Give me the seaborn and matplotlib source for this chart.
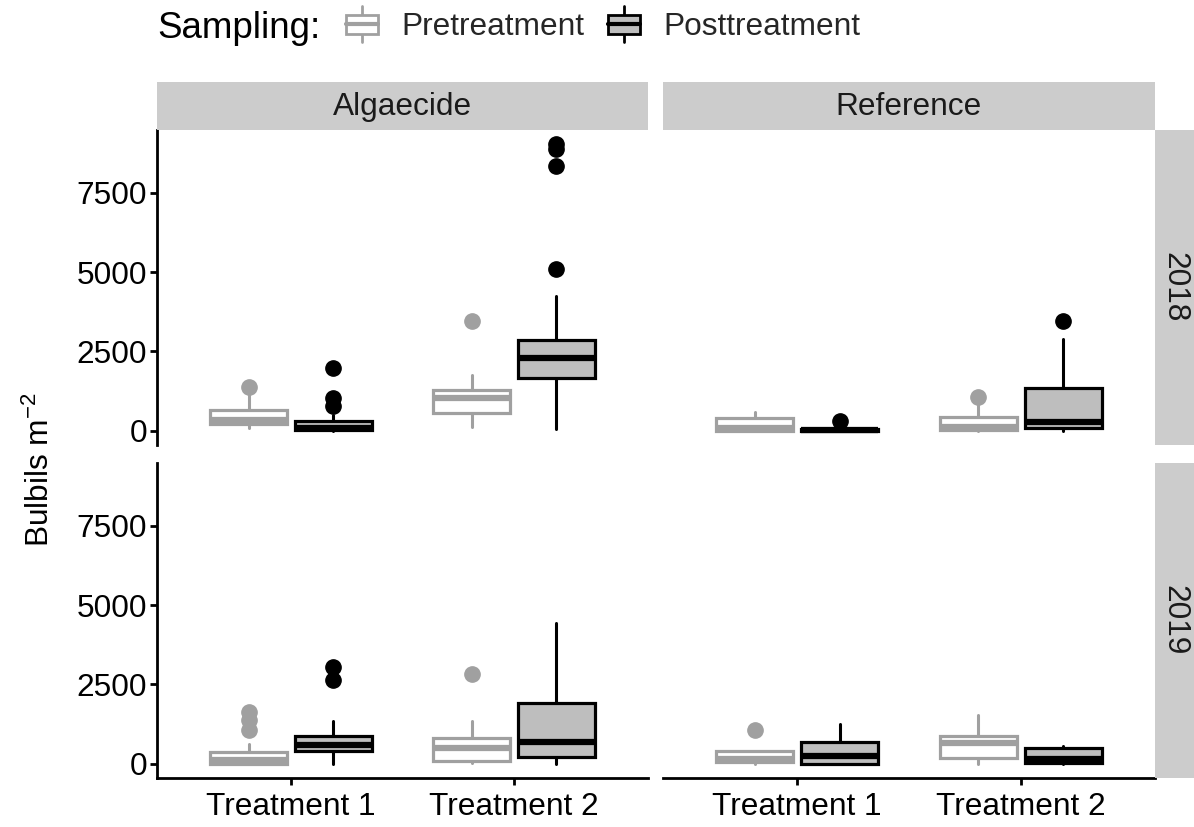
import matplotlib
matplotlib.use("Agg")
import matplotlib.pyplot as plt
import matplotlib.patches as mpatches
import matplotlib.lines as mlines
from matplotlib.legend_handler import HandlerBase
import seaborn as sns

sns.set_theme(style="white")
plt.rcParams['font.family'] = ['Liberation Sans', 'DejaVu Sans']
plt.rcParams['mathtext.default'] = 'regular'

# ---------------- data ----------------
years = ["2018", "2019"]
sites = ["Algaecide", "Reference"]
groups = ["Treatment 1", "Treatment 2"]
samplings = ["Pretreatment", "Posttreatment"]
yticks = [0, 2500, 5000, 7500]

# five-number summaries (whisker low, Q1, median, Q3, whisker high)
# order in each panel: T1-Pre, T1-Post, T2-Pre, T2-Post
alg2018_box = [(80, 220, 330, 650, 1150), (0, 20, 100, 310, 480),
               (130, 570, 1030, 1290, 1760), (40, 1660, 2290, 2870, 4260)]
alg2018_out = [[1380], [780, 1020, 1990], [3450], [5080, 8350, 8880, 9020]]

ref2018_box = [(0, 0, 100, 390, 600), (0, 0, 20, 60, 130),
               (0, 20, 130, 430, 850), (0, 80, 270, 1350, 2900)]
ref2018_out = [[], [290], [1050], [3450]]

alg2019_box = [(0, 0, 130, 360, 630), (0, 390, 580, 860, 1330),
               (20, 80, 500, 810, 1340), (0, 200, 670, 1910, 4430)]
alg2019_out = [[1070, 1390, 1630], [2650, 3050], [2840], []]

ref2019_box = [(0, 40, 150, 390, 400), (0, 0, 230, 670, 1260),
               (0, 180, 640, 860, 1550), (0, 30, 150, 500, 570)]
ref2019_out = [[1050], [], [], []]

panels = {("2018", "Algaecide"): (alg2018_box, alg2018_out),
          ("2018", "Reference"): (ref2018_box, ref2018_out),
          ("2019", "Algaecide"): (alg2019_box, alg2019_out),
          ("2019", "Reference"): (ref2019_box, ref2019_out)}

# ---------------- style ----------------
PRE_EDGE = "#A0A0A0"
PRE_FACE = "white"
POST_EDGE = "black"
POST_FACE = "#BEBEBE"
STRIP = "#CCCCCC"
FS = 22.8
W, H = 1194, 827

fig = plt.figure(figsize=(W / 100, H / 100), dpi=100)

def fx(px):
    return px / W

def fy(py):
    return 1 - py / H

col_x = [(157, 648), (663, 1155)]
row_y = [(130, 445), (463, 778)]

offsets = [-0.19, 0.19]
box_w = 0.345

for r, yr in enumerate(years):
    for c, site in enumerate(sites):
        x0, x1 = col_x[c]
        y0, y1 = row_y[r]
        ax = fig.add_axes([fx(x0), fy(y1), fx(x1 - x0), (y1 - y0) / H])
        boxes, outs = panels[(yr, site)]
        k = 0
        for g in range(len(groups)):
            for s in range(len(samplings)):
                lo, q1, med, q3, hi = boxes[k]
                st = dict(whislo=lo, q1=q1, med=med, q3=q3, whishi=hi,
                          fliers=outs[k], label="")
                ec = PRE_EDGE if s == 0 else POST_EDGE
                fc = PRE_FACE if s == 0 else POST_FACE
                ax.bxp([st], positions=[g + 1 + offsets[s]], widths=[box_w],
                       patch_artist=True, showcaps=False, manage_ticks=False,
                       boxprops=dict(facecolor=fc, edgecolor=ec, linewidth=2.3),
                       medianprops=dict(color=ec, linewidth=4.5, solid_capstyle="butt"),
                       whiskerprops=dict(color=ec, linewidth=2.2),
                       flierprops=dict(marker="o", markerfacecolor=ec,
                                       markeredgecolor=ec, markersize=11))
                k += 1
        ax.set_xlim(0.4, 2.6)
        ax.set_ylim(-451, 9476)
        ax.set_facecolor("white")
        for sp in ax.spines.values():
            sp.set_visible(False)
        if c == 0:
            ax.spines["left"].set_visible(True)
            ax.spines["left"].set_linewidth(2.0)
            ax.spines["left"].set_color("black")
            ax.set_yticks(yticks)
            ax.set_yticklabels([str(v) for v in yticks])
            ax.tick_params(axis="y", left=True, length=5, width=2.0,
                           labelsize=FS, pad=2, colors="black")
        else:
            ax.set_yticks([])
        if r == 1:
            ax.spines["bottom"].set_visible(True)
            ax.spines["bottom"].set_linewidth(2.0)
            ax.spines["bottom"].set_color("black")
            ax.set_xticks([1, 2])
            ax.set_xticklabels(groups)
            ax.tick_params(axis="x", bottom=True, length=5, width=2.0,
                           labelsize=FS, pad=5, colors="black")
        else:
            ax.set_xticks([])
        ax.grid(False)

# column strips
for c, site in enumerate(sites):
    x0, x1 = col_x[c]
    sax = fig.add_axes([fx(x0), fy(130), fx(x1 - x0), 48 / H])
    sax.set_facecolor(STRIP)
    sax.set_xticks([]); sax.set_yticks([])
    for sp in sax.spines.values():
        sp.set_visible(False)
    sax.text(0.5, 0.48, site, ha="center", va="center", fontsize=FS,
             color="#1A1A1A", transform=sax.transAxes)

# row strips
for r, yr in enumerate(years):
    y0, y1 = row_y[r]
    sax = fig.add_axes([fx(1155), fy(y1), fx(1194 - 1155), (y1 - y0) / H])
    sax.set_facecolor(STRIP)
    sax.set_xticks([]); sax.set_yticks([])
    for sp in sax.spines.values():
        sp.set_visible(False)
    sax.text(0.5, 0.5, yr, ha="center", va="center", fontsize=FS,
             rotation=-90, color="#1A1A1A", transform=sax.transAxes)

# y label
fig.text(fx(40), fy(470), r"Bulbils m$^{-2}$", rotation=90, ha="center",
         va="center", fontsize=FS, color="black")

# legend
class BoxHandler(HandlerBase):
    def create_artists(self, legend, orig_handle, xdescent, ydescent,
                       width, height, fontsize, trans):
        ec = orig_handle.get_edgecolor()
        fc = orig_handle.get_facecolor()
        x0, y0 = -xdescent, -ydescent
        cy = y0 + height / 2
        bh = height * 0.77
        wext = height * 0.73
        cx = x0 + width / 2
        wl = mlines.Line2D([cx, cx], [cy - wext, cy - bh / 2], color=ec, lw=2.0, transform=trans)
        wh = mlines.Line2D([cx, cx], [cy + bh / 2, cy + wext], color=ec, lw=2.0, transform=trans)
        rect = mpatches.Rectangle((x0, cy - bh / 2), width, bh, facecolor=fc, edgecolor=ec,
                                  lw=2.0, transform=trans)
        med = mlines.Line2D([x0, x0 + width], [cy, cy], color=ec,
                            lw=3.0, transform=trans)
        return [wl, wh, rect, med]

h_pre = mpatches.Patch(facecolor=PRE_FACE, edgecolor=PRE_EDGE)
h_post = mpatches.Patch(facecolor=POST_FACE, edgecolor=POST_EDGE)
fig.text(fx(157), fy(28), "Sampling:", ha="left", va="center", fontsize=26.5, color="black")
fig.legend([h_pre, h_post], samplings, loc="center left",
           bbox_to_anchor=(fx(346), fy(27)), ncol=2, frameon=False,
           fontsize=FS, handlelength=1.0, handleheight=0.82, handletextpad=0.76,
           columnspacing=0.73, borderpad=0, borderaxespad=0,
           handler_map={mpatches.Patch: BoxHandler()})

fig.savefig("out.png", dpi=100, facecolor="white")
